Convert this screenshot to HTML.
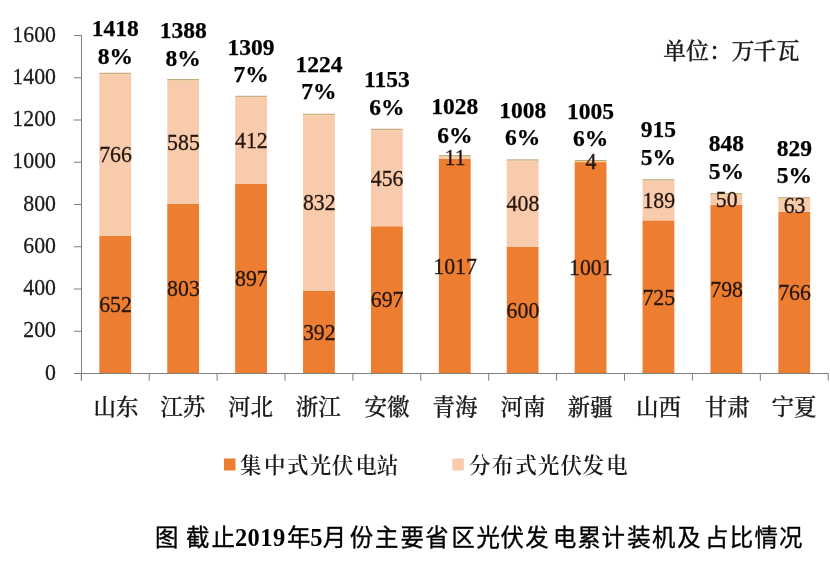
<!DOCTYPE html>
<html><head><meta charset="utf-8"><style>
html,body{margin:0;padding:0;background:#fff;}
body{width:830px;height:569px;overflow:hidden;}
svg{display:block;will-change:transform;}
.yl{font-family:"Liberation Serif", "Noto Serif CJK SC", serif;font-size:22.5px;fill:#1a1a1a;stroke:#1a1a1a;stroke-width:0.25px;}
.il{font-family:"Liberation Serif", "Noto Serif CJK SC", serif;font-size:23.2px;fill:#24160f;stroke:#24160f;stroke-width:0.3px;}
.tl{font-family:"Liberation Serif", "Noto Serif CJK SC", serif;font-size:23.5px;font-weight:bold;fill:#000;stroke:#000;stroke-width:0.25px;}
.cl{font-family:"Liberation Serif", "Noto Serif CJK SC", serif;font-size:22.5px;font-weight:500;fill:#1a1a1a;stroke:#1a1a1a;stroke-width:0.25px;}
.ul{font-family:"Liberation Serif", "Noto Serif CJK SC", serif;font-size:23px;font-weight:500;fill:#1a1a1a;stroke:#1a1a1a;stroke-width:0.3px;}
.lg{font-family:"Liberation Serif", "Noto Serif CJK SC", serif;font-size:21.5px;font-weight:600;fill:#1a1a1a;}
.cap{font-family:"Liberation Serif", "Noto Sans CJK SC", sans-serif;font-size:23.4px;font-weight:400;fill:#000;stroke:#000;stroke-width:0.35px;}
.capd{font-family:"Liberation Serif", "Noto Serif CJK SC", serif;font-size:24.5px;font-weight:bold;fill:#000;}
</style></head><body>
<svg width="830" height="569" viewBox="0 0 830 569">
<rect width="830" height="569" fill="#fff"/>
<rect x="99.35" y="235.77" width="31.8" height="137.73" fill="#ED7D31"/>
<rect x="99.35" y="73.95" width="31.8" height="161.82" fill="#F8CBAD"/>
<rect x="99.35" y="73.75" width="31.8" height="1.2" fill="#F6D6A8"/>
<rect x="99.35" y="72.75" width="31.8" height="1.1" fill="#BFA47A"/>
<rect x="167.25" y="203.87" width="31.8" height="169.63" fill="#ED7D31"/>
<rect x="167.25" y="80.29" width="31.8" height="123.58" fill="#F8CBAD"/>
<rect x="167.25" y="80.09" width="31.8" height="1.2" fill="#F6D6A8"/>
<rect x="167.25" y="79.09" width="31.8" height="1.1" fill="#BFA47A"/>
<rect x="235.15" y="184.01" width="31.8" height="189.49" fill="#ED7D31"/>
<rect x="235.15" y="96.97" width="31.8" height="87.03" fill="#F8CBAD"/>
<rect x="235.15" y="96.77" width="31.8" height="1.2" fill="#F6D6A8"/>
<rect x="235.15" y="95.77" width="31.8" height="1.1" fill="#BFA47A"/>
<rect x="303.05" y="290.69" width="31.8" height="82.81" fill="#ED7D31"/>
<rect x="303.05" y="114.93" width="31.8" height="175.76" fill="#F8CBAD"/>
<rect x="303.05" y="114.73" width="31.8" height="1.2" fill="#F6D6A8"/>
<rect x="303.05" y="113.73" width="31.8" height="1.1" fill="#BFA47A"/>
<rect x="370.95" y="226.26" width="31.8" height="147.24" fill="#ED7D31"/>
<rect x="370.95" y="129.93" width="31.8" height="96.33" fill="#F8CBAD"/>
<rect x="370.95" y="129.73" width="31.8" height="1.2" fill="#F6D6A8"/>
<rect x="370.95" y="128.73" width="31.8" height="1.1" fill="#BFA47A"/>
<rect x="438.85" y="158.66" width="31.8" height="214.84" fill="#ED7D31"/>
<rect x="438.85" y="156.34" width="31.8" height="2.32" fill="#F8CBAD"/>
<rect x="438.85" y="156.14" width="31.8" height="1.2" fill="#F6D6A8"/>
<rect x="438.85" y="155.14" width="31.8" height="1.1" fill="#BFA47A"/>
<rect x="506.75" y="246.75" width="31.8" height="126.75" fill="#ED7D31"/>
<rect x="506.75" y="160.56" width="31.8" height="86.19" fill="#F8CBAD"/>
<rect x="506.75" y="160.36" width="31.8" height="1.2" fill="#F6D6A8"/>
<rect x="506.75" y="159.36" width="31.8" height="1.1" fill="#BFA47A"/>
<rect x="574.65" y="162.04" width="31.8" height="211.46" fill="#ED7D31"/>
<rect x="574.65" y="161.19" width="31.8" height="0.84" fill="#F8CBAD"/>
<rect x="574.65" y="160.99" width="31.8" height="1.2" fill="#F6D6A8"/>
<rect x="574.65" y="159.99" width="31.8" height="1.1" fill="#BFA47A"/>
<rect x="642.55" y="220.34" width="31.8" height="153.16" fill="#ED7D31"/>
<rect x="642.55" y="180.42" width="31.8" height="39.93" fill="#F8CBAD"/>
<rect x="642.55" y="180.22" width="31.8" height="1.2" fill="#F6D6A8"/>
<rect x="642.55" y="179.22" width="31.8" height="1.1" fill="#BFA47A"/>
<rect x="710.45" y="204.92" width="31.8" height="168.58" fill="#ED7D31"/>
<rect x="710.45" y="194.36" width="31.8" height="10.56" fill="#F8CBAD"/>
<rect x="710.45" y="194.16" width="31.8" height="1.2" fill="#F6D6A8"/>
<rect x="710.45" y="193.16" width="31.8" height="1.1" fill="#BFA47A"/>
<rect x="778.35" y="211.68" width="31.8" height="161.82" fill="#ED7D31"/>
<rect x="778.35" y="198.37" width="31.8" height="13.31" fill="#F8CBAD"/>
<rect x="778.35" y="198.17" width="31.8" height="1.2" fill="#F6D6A8"/>
<rect x="778.35" y="197.17" width="31.8" height="1.1" fill="#BFA47A"/>
<rect x="81" y="35" width="1" height="345.8" fill="#7f7f7f"/>
<rect x="74" y="373" width="754.5" height="1" fill="#7f7f7f"/>
<rect x="74" y="373.00" width="7" height="1" fill="#7f7f7f"/>
<rect x="74" y="330.75" width="7" height="1" fill="#7f7f7f"/>
<rect x="74" y="288.50" width="7" height="1" fill="#7f7f7f"/>
<rect x="74" y="246.25" width="7" height="1" fill="#7f7f7f"/>
<rect x="74" y="204.00" width="7" height="1" fill="#7f7f7f"/>
<rect x="74" y="161.75" width="7" height="1" fill="#7f7f7f"/>
<rect x="74" y="119.50" width="7" height="1" fill="#7f7f7f"/>
<rect x="74" y="77.25" width="7" height="1" fill="#7f7f7f"/>
<rect x="74" y="35.00" width="7" height="1" fill="#7f7f7f"/>
<rect x="80.80" y="373" width="1" height="7.8" fill="#7f7f7f"/>
<rect x="148.70" y="373" width="1" height="7.8" fill="#7f7f7f"/>
<rect x="216.60" y="373" width="1" height="7.8" fill="#7f7f7f"/>
<rect x="284.50" y="373" width="1" height="7.8" fill="#7f7f7f"/>
<rect x="352.40" y="373" width="1" height="7.8" fill="#7f7f7f"/>
<rect x="420.30" y="373" width="1" height="7.8" fill="#7f7f7f"/>
<rect x="488.20" y="373" width="1" height="7.8" fill="#7f7f7f"/>
<rect x="556.10" y="373" width="1" height="7.8" fill="#7f7f7f"/>
<rect x="624.00" y="373" width="1" height="7.8" fill="#7f7f7f"/>
<rect x="691.90" y="373" width="1" height="7.8" fill="#7f7f7f"/>
<rect x="759.80" y="373" width="1" height="7.8" fill="#7f7f7f"/>
<rect x="827.70" y="373" width="1" height="7.8" fill="#7f7f7f"/>
<text transform="translate(56.00 379.50) scale(0.97 1.03)" text-anchor="end" class="yl">0</text>
<text transform="translate(56.00 337.25) scale(0.97 1.03)" text-anchor="end" class="yl">200</text>
<text transform="translate(56.00 295.00) scale(0.97 1.03)" text-anchor="end" class="yl">400</text>
<text transform="translate(56.00 252.75) scale(0.97 1.03)" text-anchor="end" class="yl">600</text>
<text transform="translate(56.00 210.50) scale(0.97 1.03)" text-anchor="end" class="yl">800</text>
<text transform="translate(56.00 168.25) scale(0.97 1.03)" text-anchor="end" class="yl">1000</text>
<text transform="translate(56.00 126.00) scale(0.97 1.03)" text-anchor="end" class="yl">1200</text>
<text transform="translate(56.00 83.75) scale(0.97 1.03)" text-anchor="end" class="yl">1400</text>
<text transform="translate(56.00 41.50) scale(0.97 1.03)" text-anchor="end" class="yl">1600</text>
<text transform="translate(115.55 312.23) scale(0.94 1.0)" text-anchor="middle" class="il">652</text>
<text transform="translate(115.55 162.46) scale(0.94 1.0)" text-anchor="middle" class="il">766</text>
<text transform="translate(183.45 296.28) scale(0.94 1.0)" text-anchor="middle" class="il">803</text>
<text transform="translate(183.45 149.68) scale(0.94 1.0)" text-anchor="middle" class="il">585</text>
<text transform="translate(251.35 286.35) scale(0.94 1.0)" text-anchor="middle" class="il">897</text>
<text transform="translate(251.35 148.09) scale(0.94 1.0)" text-anchor="middle" class="il">412</text>
<text transform="translate(319.25 339.70) scale(0.94 1.0)" text-anchor="middle" class="il">392</text>
<text transform="translate(319.25 210.41) scale(0.94 1.0)" text-anchor="middle" class="il">832</text>
<text transform="translate(387.15 307.48) scale(0.94 1.0)" text-anchor="middle" class="il">697</text>
<text transform="translate(387.15 185.69) scale(0.94 1.0)" text-anchor="middle" class="il">456</text>
<text transform="translate(455.05 273.68) scale(0.94 1.0)" text-anchor="middle" class="il">1017</text>
<text transform="translate(455.05 165.10) scale(0.94 1.0)" text-anchor="middle" class="il">11</text>
<text transform="translate(522.95 317.73) scale(0.94 1.0)" text-anchor="middle" class="il">600</text>
<text transform="translate(522.95 211.25) scale(0.94 1.0)" text-anchor="middle" class="il">408</text>
<text transform="translate(590.85 275.37) scale(0.94 1.0)" text-anchor="middle" class="il">1001</text>
<text transform="translate(590.85 169.22) scale(0.94 1.0)" text-anchor="middle" class="il">4</text>
<text transform="translate(658.75 304.52) scale(0.94 1.0)" text-anchor="middle" class="il">725</text>
<text transform="translate(658.75 207.98) scale(0.94 1.0)" text-anchor="middle" class="il">189</text>
<text transform="translate(726.65 296.81) scale(0.94 1.0)" text-anchor="middle" class="il">798</text>
<text transform="translate(726.65 207.24) scale(0.94 1.0)" text-anchor="middle" class="il">50</text>
<text transform="translate(794.55 300.19) scale(0.94 1.0)" text-anchor="middle" class="il">766</text>
<text transform="translate(794.55 212.63) scale(0.94 1.0)" text-anchor="middle" class="il">63</text>
<text x="115.25" y="36.20" text-anchor="middle" class="tl">1418</text>
<text x="115.25" y="64.10" text-anchor="middle" class="tl">8%</text>
<text x="183.15" y="38.20" text-anchor="middle" class="tl">1388</text>
<text x="183.15" y="65.70" text-anchor="middle" class="tl">8%</text>
<text x="251.05" y="54.80" text-anchor="middle" class="tl">1309</text>
<text x="251.05" y="81.80" text-anchor="middle" class="tl">7%</text>
<text x="318.95" y="72.20" text-anchor="middle" class="tl">1224</text>
<text x="318.95" y="99.20" text-anchor="middle" class="tl">7%</text>
<text x="386.85" y="87.30" text-anchor="middle" class="tl">1153</text>
<text x="386.85" y="114.80" text-anchor="middle" class="tl">6%</text>
<text x="454.75" y="114.10" text-anchor="middle" class="tl">1028</text>
<text x="454.75" y="142.50" text-anchor="middle" class="tl">6%</text>
<text x="522.65" y="118.40" text-anchor="middle" class="tl">1008</text>
<text x="522.65" y="145.40" text-anchor="middle" class="tl">6%</text>
<text x="590.55" y="118.90" text-anchor="middle" class="tl">1005</text>
<text x="590.55" y="145.90" text-anchor="middle" class="tl">6%</text>
<text x="658.45" y="137.20" text-anchor="middle" class="tl">915</text>
<text x="658.45" y="164.90" text-anchor="middle" class="tl">5%</text>
<text x="726.35" y="151.40" text-anchor="middle" class="tl">848</text>
<text x="726.35" y="179.20" text-anchor="middle" class="tl">5%</text>
<text x="794.25" y="155.80" text-anchor="middle" class="tl">829</text>
<text x="794.25" y="183.00" text-anchor="middle" class="tl">5%</text>
<text x="116.00" y="414.50" text-anchor="middle" class="cl">山东</text>
<text x="182.70" y="414.50" text-anchor="middle" class="cl">江苏</text>
<text x="250.40" y="414.50" text-anchor="middle" class="cl">河北</text>
<text x="318.20" y="414.50" text-anchor="middle" class="cl">浙江</text>
<text x="386.90" y="414.50" text-anchor="middle" class="cl">安徽</text>
<text x="455.00" y="414.50" text-anchor="middle" class="cl">青海</text>
<text x="523.10" y="414.50" text-anchor="middle" class="cl">河南</text>
<text x="590.30" y="414.50" text-anchor="middle" class="cl">新疆</text>
<text x="658.60" y="414.50" text-anchor="middle" class="cl">山西</text>
<text x="727.30" y="414.50" text-anchor="middle" class="cl">甘肃</text>
<text x="794.05" y="414.50" text-anchor="middle" class="cl">宁夏</text>
<text x="674.8 697.6 720.5 742.9 764.8 788.1" y="58.5" text-anchor="middle" class="ul">单位：万千瓦</text>
<rect x="224" y="458.5" width="11.5" height="12" fill="#ED7D31"/>
<text x="250.7 274.7 297.8 320.5 342.5 366.2 387.6" y="472.5" text-anchor="middle" class="lg">集中式光伏电站</text>
<rect x="452.3" y="458.5" width="11.5" height="12" fill="#F8CBAD"/>
<text x="479.7 502.6 526.0 548.7 571.2 593.2 617.1" y="472.5" text-anchor="middle" class="lg">分布式光伏发电</text>
<text x="166.7 197.6 223.2 298.7 334.5 361.5 386.6 412.3 436.9 463.2 488.3 512.2 537.0 564.7 589.1 613.2 638.9 663.7 689.0 716.6 741.4 766.3 790.8" y="545.5" text-anchor="middle" class="cap">图截止年月份主要省区光伏发电累计装机及占比情况</text>
<text x="241.0 253.7 266.4 279.1 316.3" y="546" text-anchor="middle" class="capd">20195</text>
</svg>
</body></html>
